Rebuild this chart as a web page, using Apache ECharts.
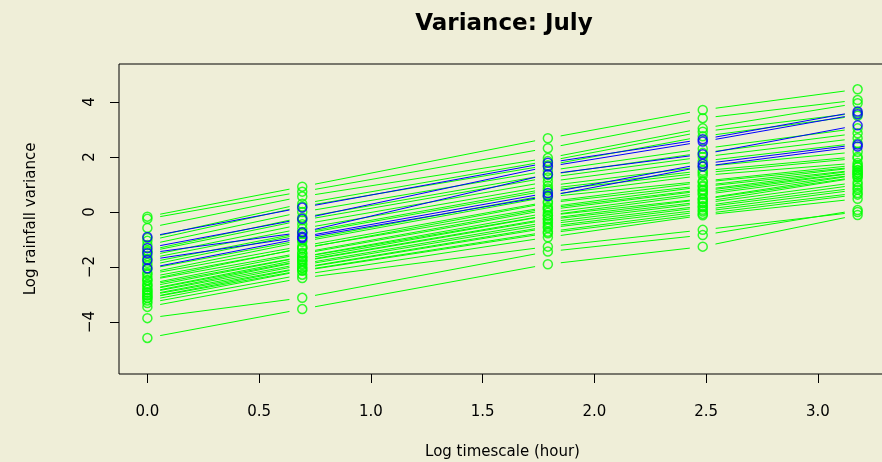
<!DOCTYPE html>
<html>
<head>
<meta charset="utf-8">
<title>Variance: July</title>
<script src="https://cdn.jsdelivr.net/npm/echarts@6/dist/echarts.min.js"></script>
<style>
  html, body { margin: 0; padding: 0; background: #EFEED8; }
  #chart { width: 882px; height: 462px; }
</style>
</head>
<body>
<div id="chart"></div>
<script>
// log of 1, 2, 6, 12, 24 hours
var timescale = [0, 0.693, 1.792, 2.485, 3.178];
var xTicks = [0, 0.5, 1, 1.5, 2, 2.5, 3];
var yTicks = [-4, -2, 0, 2, 4];

// one row per station, values at each timescale
var greenLines = [
  [-0.17, 0.92, 2.68, 3.71, 4.46],
  [-0.25, 0.74, 2.32, 3.41, 4.07],
  [-0.58, 0.56, 1.96, 3.04, 3.95],
  [-0.95, 0.3, 1.85, 2.92, 3.6],
  [-1.05, 0.2, 1.7, 2.75, 3.5],
  [-1.2, 0.0, 1.5, 2.3, 3.04],
  [-1.4, -0.2, 1.35, 2.15, 2.86],
  [-1.45, -0.3, 1.25, 2.0, 2.68],
  [-1.6, -0.45, 1.1, 1.85, 2.5],
  [-1.7, -0.6, 0.95, 1.65, 2.19],
  [-1.85, -0.75, 0.85, 1.5, 2.01],
  [-1.95, -0.8, 0.78, 1.42, 1.95],
  [-2.08, -1.02, 0.62, 1.33, 1.78],
  [-2.22, -1.08, 0.55, 1.12, 1.71],
  [-2.27, -1.24, 0.37, 1.08, 1.64],
  [-2.38, -1.33, 0.33, 0.96, 1.62],
  [-2.47, -1.31, 0.18, 0.92, 1.53],
  [-2.49, -1.48, 0.14, 0.81, 1.51],
  [-2.62, -1.52, 0.08, 0.77, 1.44],
  [-2.66, -1.63, -0.03, 0.69, 1.43],
  [-2.73, -1.64, -0.12, 0.63, 1.36],
  [-2.82, -1.71, -0.13, 0.48, 1.35],
  [-2.84, -1.77, -0.24, 0.46, 1.27],
  [-2.92, -1.79, -0.28, 0.37, 1.25],
  [-2.94, -1.88, -0.37, 0.32, 1.08],
  [-3.02, -1.93, -0.44, 0.22, 0.99],
  [-3.04, -2.02, -0.53, 0.17, 0.88],
  [-3.12, -2.04, -0.58, 0.08, 0.81],
  [-3.13, -2.12, -0.72, 0.02, 0.69],
  [-3.22, -2.14, -0.77, -0.07, 0.63],
  [-3.31, -2.28, -0.92, -0.12, 0.48],
  [-3.45, -2.4, -1.26, -0.65, 0.0],
  [-3.86, -3.12, -1.44, -0.84, 0.07],
  [-4.58, -3.53, -1.9, -1.26, -0.11]
];
var blueLines = [
  [-0.91, 0.16, 1.79, 2.64, 3.65],
  [-1.31, -0.25, 1.65, 2.56, 3.55],
  [-1.5, -0.74, 1.37, 2.1, 3.15],
  [-1.75, -0.9, 0.69, 1.75, 2.45],
  [-2.05, -0.95, 0.58, 1.65, 2.38]
];

var GREEN = '#00FF00';
var BLUE = '#0000FF';
var FONT = 'DejaVu Sans';

function toSegments(lines) {
  var out = [];
  lines.forEach(function (row) {
    for (var i = 0; i < row.length - 1; i++) {
      out.push([timescale[i], row[i], timescale[i + 1], row[i + 1]]);
    }
  });
  return out;
}
function toPoints(lines) {
  var out = [];
  lines.forEach(function (row) {
    row.forEach(function (v, i) { out.push([timescale[i], v]); });
  });
  return out;
}

// type="b": segments stop short of the circles
function gapRenderer(color) {
  return function (params, api) {
    var a = api.coord([api.value(0), api.value(1)]);
    var b = api.coord([api.value(2), api.value(3)]);
    var dx = b[0] - a[0], dy = b[1] - a[1];
    var len = Math.sqrt(dx * dx + dy * dy);
    var g = 13;
    if (len <= 2 * g) return null;
    var ux = dx / len, uy = dy / len;
    return {
      type: 'line',
      shape: { x1: a[0] + ux * g, y1: a[1] + uy * g, x2: b[0] - ux * g, y2: b[1] - uy * g },
      style: { stroke: color, lineWidth: 1 }
    };
  };
}

function circleSeries(data, color, z) {
  return {
    type: 'scatter',
    data: data,
    symbol: 'circle',
    symbolSize: 9,
    z: z,
    silent: true,
    itemStyle: { color: 'rgba(0,0,0,0)', borderColor: color, borderWidth: 1.5 }
  };
}

var myChart = echarts.init(document.getElementById('chart'));
var option = {
  backgroundColor: '#EFEED8',
  animation: false,
  title: {
    text: 'Variance: July',
    left: 499,
    top: 8,
    textAlign: 'center',
    textStyle: { fontFamily: FONT, fontSize: 23, fontWeight: 'bold', color: '#000' }
  },
  grid: {
    left: 119, top: 64, right: -4, bottom: 88,
    outerBoundsMode: 'none',
    containLabel: false,
    show: true, borderColor: '#000', borderWidth: 1, backgroundColor: 'transparent'
  },
  xAxis: {
    type: 'value',
    min: -0.127,
    max: 3.305,
    name: 'Log timescale (hour)',
    nameLocation: 'middle',
    nameGap: 71,
    nameTextStyle: { fontFamily: FONT, fontSize: 15, color: '#000' },
    axisLine: { show: false, onZero: false },
    splitLine: { show: false },
    axisTick: { show: true, length: 9, customValues: xTicks, lineStyle: { color: '#000' } },
    axisLabel: {
      customValues: xTicks,
      margin: 31,
      fontFamily: FONT, fontSize: 15, color: '#000',
      formatter: function (v) { return v.toFixed(1); }
    }
  },
  yAxis: {
    type: 'value',
    min: -5.89,
    max: 5.38,
    name: 'Log rainfall variance',
    nameLocation: 'middle',
    nameGap: 80,
    nameTextStyle: { fontFamily: FONT, fontSize: 15, color: '#000' },
    axisLine: { show: false, onZero: false },
    splitLine: { show: false },
    axisTick: { show: true, length: 9, customValues: yTicks, lineStyle: { color: '#000' } },
    axisLabel: {
      customValues: yTicks,
      rotate: 90,
      margin: 21,
      fontFamily: FONT, fontSize: 15, color: '#000',
      formatter: function (v) { return v < 0 ? '\u2212' + Math.abs(v) : String(v); }
    }
  },
  series: [
    {
      type: 'custom',
      renderItem: gapRenderer(GREEN),
      data: toSegments(greenLines),
      encode: { x: [0, 2], y: [1, 3] },
      clip: true,
      silent: true,
      z: 2
    },
    circleSeries(toPoints(greenLines), GREEN, 3),
    {
      type: 'custom',
      renderItem: gapRenderer(BLUE),
      data: toSegments(blueLines),
      encode: { x: [0, 2], y: [1, 3] },
      clip: true,
      silent: true,
      z: 4
    },
    circleSeries(toPoints(blueLines), BLUE, 5)
  ]
};
myChart.setOption(option);
</script>
</body>
</html>
